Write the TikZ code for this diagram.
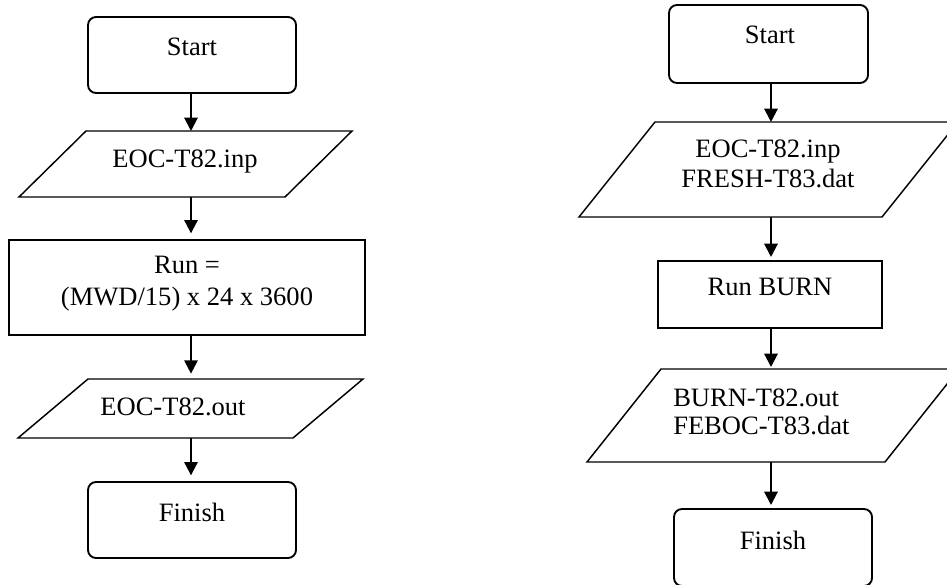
\documentclass[tikz,border=0pt]{standalone}
\usepackage{fontspec}
\setmainfont{Liberation Serif}
\usetikzlibrary{arrows.meta,calc}
\begin{document}
\begin{tikzpicture}[x=0.75pt,y=-0.75pt,
  shp/.style={draw=none,inner sep=0pt,outer sep=0pt,rectangle},
  term/.style={shp,draw,line width=1.4pt,rounded corners=6pt},
  proc/.style={shp,draw,line width=1.1pt},
  txt/.style={inner sep=0pt,font=\fontsize{19.9}{23}\selectfont},
  arr/.style={line width=1.5pt,-{Triangle[width=10pt,length=10pt]}},
  para/.style={line width=1.1pt}]
\useasboundingbox (0,0) rectangle (947,585);
\clip (0,0) rectangle (947,585);
% column guides for the connectors
\coordinate (colL) at (191,0);
\coordinate (colR) at (771,0);
% ---------- left flow ----------
\node[term,minimum width=156pt,minimum height=57pt] (startL) at (192,55) {};
\node[shp,minimum width=249.75pt,minimum height=49.5pt] (inL) at (185.5,164) {};
\draw[para] (inL.south west) -- ($(inL.south east)+(-67,0)$) -- (inL.north east) -- ($(inL.north west)+(67,0)$) -- cycle;
\node[proc,minimum width=267pt,minimum height=71.25pt] (runL) at (187,287.5) {};
\node[shp,minimum width=258.75pt,minimum height=44.25pt] (outL) at (190.5,408.5) {};
\draw[para] (outL.south west) -- ($(outL.south east)+(-70,0)$) -- (outL.north east) -- ($(outL.north west)+(70,0)$) -- cycle;
\node[term,minimum width=156pt,minimum height=57pt] (finL) at (192,520) {};
\node[txt] (startLt) at (192,47) {Start};
\node[txt] (inLt) at (185,162) {EOC-T82.inp};
\node[txt,align=center,font=\fontsize{19.9}{24}\selectfont] (runLt) at (187,284) {Run =\\(MWD/15) x 24 x 3600};
\node[txt] (outLt) at (173,407) {EOC-T82.out};
\node[txt] (finLt) at (192,512) {Finish};
\draw[arr] (startL.south -| colL) -- (inL.north -| colL);
\draw[arr,shorten >=5pt] (inL.south -| colL) -- (runL.north -| colL);
\draw[arr,shorten >=4pt] (runL.south -| colL) -- (outL.north -| colL);
\draw[arr,shorten >=5pt] (outL.south -| colL) -- (finL.north -| colL);
% ---------- right flow ----------
\node[term,minimum width=149.25pt,minimum height=58.5pt] (startR) at (768.5,44) {};
\node[shp,minimum width=284.25pt,minimum height=71.25pt] (inR) at (768.5,169.5) {};
\draw[para] (inR.south west) -- ($(inR.south east)+(-76,0)$) -- (inR.north east) -- ($(inR.north west)+(76,0)$) -- cycle;
\node[proc,minimum width=168pt,minimum height=50.25pt] (runR) at (770,294.5) {};
\node[shp,minimum width=279pt,minimum height=69.75pt] (outR) at (773,415.5) {};
\draw[para] (outR.south west) -- ($(outR.south east)+(-74,0)$) -- (outR.north east) -- ($(outR.north west)+(74,0)$) -- cycle;
\node[term,minimum width=148.5pt,minimum height=57.75pt] (finR) at (773,547.5) {};
\node[txt] (startRt) at (770,35) {Start};
\node[txt,align=center,font=\fontsize{19.9}{22.5}\selectfont] (inRt) at (768,164) {EOC-T82.inp\\FRESH-T83.dat};
\node[txt] (runRt) at (770,287) {Run BURN};
\node[txt,align=left,anchor=west,font=\fontsize{19.9}{21}\selectfont] (outRt) at (673,412) {BURN-T82.out\\FEBOC-T83.dat};
\node[txt] (finRt) at (773,540) {Finish};
\draw[arr] (startR.south -| colR) -- (inR.north -| colR);
\draw[arr,shorten >=3pt] (inR.south -| colR) -- (runR.north -| colR);
\draw[arr,shorten >=1.5pt] (runR.south -| colR) -- (outR.north -| colR);
\draw[arr,shorten >=3pt] (outR.south -| colR) -- (finR.north -| colR);
\end{tikzpicture}
\end{document}
